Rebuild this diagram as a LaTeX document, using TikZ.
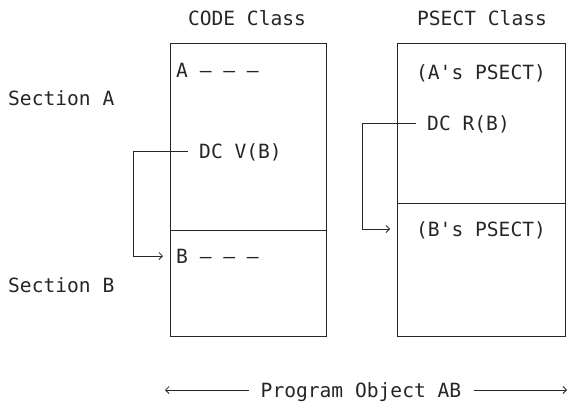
\documentclass[tikz,border=0pt]{standalone}
\usepackage{fontspec}
\newfontfamily\monofnt{DejaVu Sans Mono}[Ligatures=TeXOff]
\usetikzlibrary{arrows.meta}
\begin{document}
\begin{tikzpicture}[x=1pt,y=-1pt,
  lbl/.style={font=\monofnt\fontsize{19.6}{22}\selectfont, inner sep=0pt, text=black!85, text height=14.3pt, text depth=0pt},
  sect/.style={draw=black!85, line width=1pt, anchor=north west, inner sep=0pt},
  conn/.style={draw=black!85, line width=0.8pt, -{Straight Barb[length=3.5pt,width=7pt]}}]
\useasboundingbox (0,0) rectangle (572,404);
% boxes
\node[sect, minimum width=156pt, minimum height=187pt] (ca) at (170,43) {};
\node[sect, minimum width=156pt, minimum height=106pt] (cb) at (170,230) {};
\node[sect, minimum width=168pt, minimum height=160pt] (pa) at (397,43) {};
\node[sect, minimum width=168pt, minimum height=133pt] (pb) at (397,203) {};
% titles
\node[lbl] (codet) at (247,18) {CODE Class};
\node[lbl] (psectt) at (482,18) {PSECT Class};
\node[lbl, anchor=west] (seca) at (8,98) {Section A};
\node[lbl, anchor=west] (secb) at (8,285) {Section B};
% contents
\node[lbl, anchor=west] (atxt) at (176,70) {A — — —};
\node[lbl, anchor=west] (dcv) at (199,151) {DC V(B)};
\node[lbl, anchor=west] (btxt) at (176,256) {B — — —};
\node[lbl] (apsect) at (481,72) {(A's PSECT)};
\node[lbl, anchor=west] (dcr) at (427,123) {DC R(B)};
\node[lbl] (bpsect) at (481,229) {(B's PSECT)};
% connectors
\coordinate (lv) at (133,151);
\coordinate (rv) at (362,123);
\draw[conn, shorten <=11pt, shorten >=7pt] (dcv.west) -- (lv) |- (cb.west |- btxt.west);
\draw[conn, shorten <=11pt, shorten >=7pt] (dcr.west) -- (rv) |- (pb.west |- bpsect.west);
% bottom
\node[lbl] (prog) at (361,390) {Program Object AB};
\coordinate (pl) at (165,390);
\coordinate (pr) at (567,390);
\draw[conn, shorten <=12pt] (prog.west) -- (pl);
\draw[conn, shorten <=12pt] (prog.east) -- (pr);
\end{tikzpicture}
\end{document}
